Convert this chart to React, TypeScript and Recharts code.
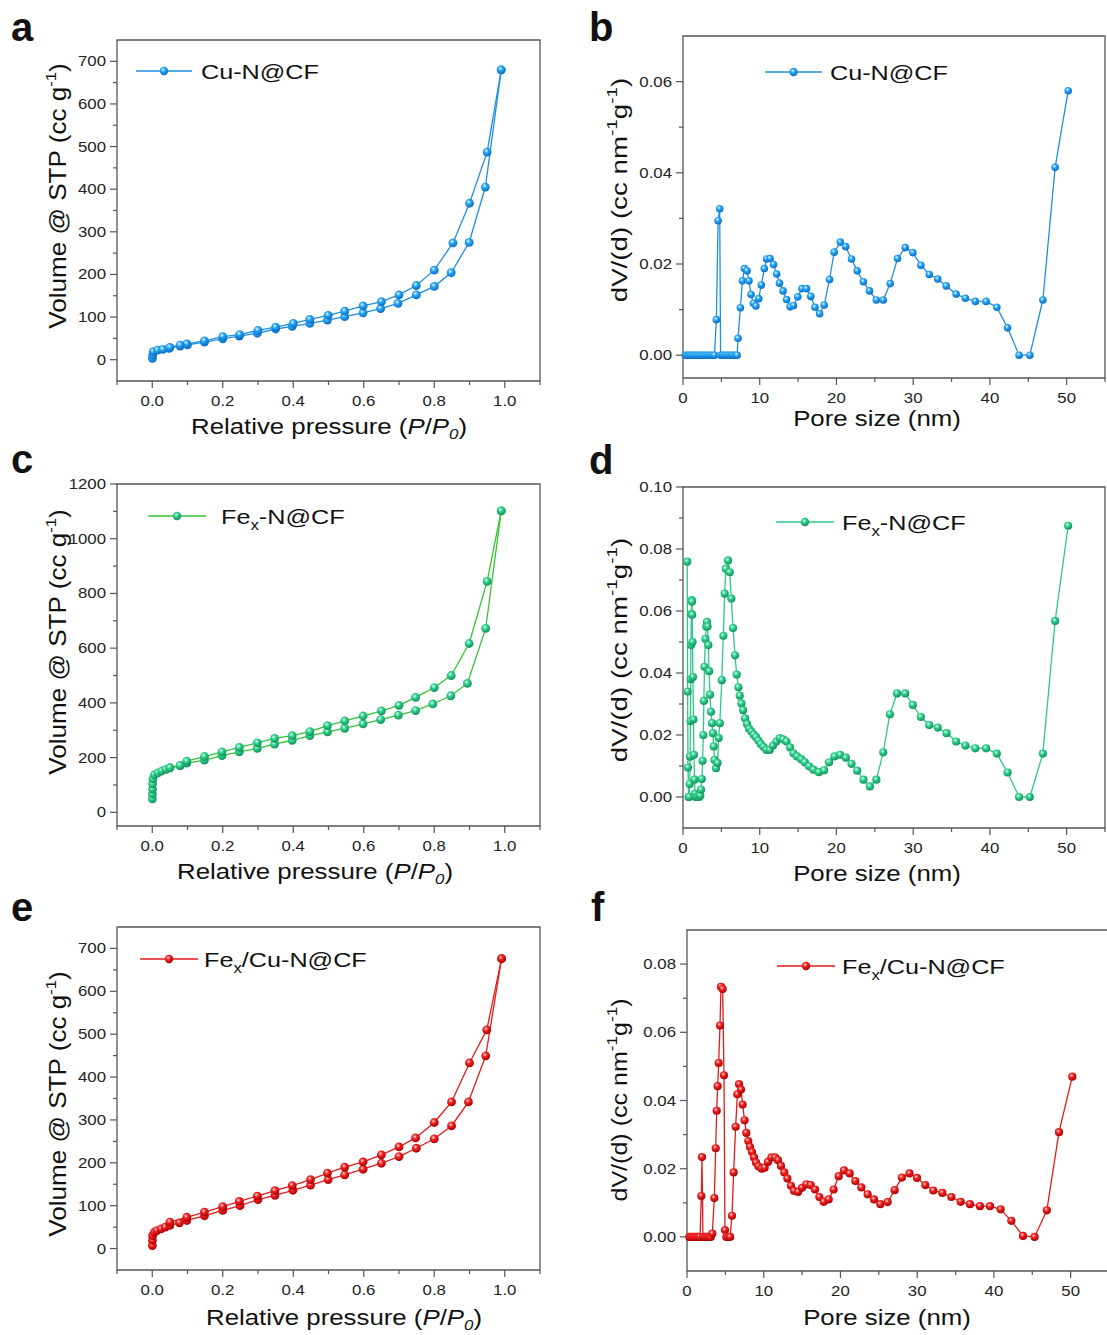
import React from 'react';
import { LineChart, Line, XAxis, YAxis, ReferenceArea } from 'recharts';

const FONT = '"Liberation Sans", Arial, Helvetica, sans-serif';
const AXIS = '#555';
const SX = 1.2;

// ---------- Panel a: Cu-N@CF isotherm ----------
const cuAdsP = [0.0005, 0.001, 0.003, 0.015, 0.03, 0.048, 0.079, 0.1, 0.148, 0.2, 0.247, 0.298, 0.35, 0.397, 0.447, 0.497, 0.546, 0.598, 0.648, 0.697, 0.749, 0.8, 0.848, 0.899, 0.945, 0.99];
const cuAdsV = [3, 11, 19, 22.5, 24, 26.5, 32, 35, 41, 49, 55.5, 62, 72, 78, 85, 93, 101, 110, 120, 132, 152, 172, 204, 275, 405, 680];
const cuDesP = [0.99, 0.95, 0.9, 0.853, 0.8, 0.749, 0.7, 0.65, 0.598, 0.546, 0.499, 0.447, 0.4, 0.35, 0.3, 0.248, 0.2, 0.148, 0.098, 0.079, 0.05];
const cuDesV = [680, 487, 367, 274, 210, 174, 152, 136, 126, 114, 104, 94.5, 85, 76.5, 69, 59, 54, 44, 37, 34, 29];

// ---------- Panel c: Fex-N@CF isotherm ----------
const feAdsP = [0.0003, 0.0005, 0.0008, 0.001, 0.002, 0.006, 0.016, 0.027, 0.039, 0.05, 0.079, 0.098, 0.148, 0.198, 0.247, 0.298, 0.347, 0.397, 0.447, 0.497, 0.546, 0.598, 0.648, 0.698, 0.747, 0.796, 0.847, 0.894, 0.946, 0.99];
const feAdsV = [49, 67, 85, 104, 122, 137, 144, 151, 157, 162, 171, 180, 191, 207, 221, 234, 249, 263, 280, 294, 307, 323, 339, 355, 372, 396, 426, 471, 672, 1102];
const feDesP = [0.99, 0.95, 0.899, 0.848, 0.8, 0.747, 0.7, 0.65, 0.598, 0.546, 0.497, 0.447, 0.397, 0.347, 0.298, 0.247, 0.198, 0.148, 0.098, 0.079, 0.05];
const feDesV = [1102, 844, 617, 500, 456, 420, 391, 371, 352, 334, 317, 295, 280, 270, 254, 237, 221, 204, 187, 171, 163];

// ---------- Panel e: Fex/Cu-N@CF isotherm ----------
const fcAdsP = [0.0003, 0.0006, 0.001, 0.006, 0.013, 0.025, 0.037, 0.05, 0.077, 0.098, 0.148, 0.2, 0.249, 0.3, 0.348, 0.399, 0.449, 0.499, 0.546, 0.598, 0.65, 0.7, 0.749, 0.8, 0.849, 0.897, 0.946, 0.991];
const fcAdsV = [7, 19, 30, 38, 42, 46, 50, 54, 60, 65.5, 76.5, 89, 100, 114, 124, 136, 148, 161, 172, 185, 199, 214.6, 234, 256, 286, 342, 449.5, 676];
const fcDesP = [0.991, 0.949, 0.9, 0.849, 0.8, 0.747, 0.7, 0.65, 0.598, 0.546, 0.497, 0.449, 0.397, 0.348, 0.298, 0.247, 0.2, 0.148, 0.098, 0.05];
const fcDesV = [676, 510, 433, 342, 294, 258, 237, 218.5, 202, 190, 176, 161, 147, 135, 122.5, 110, 98, 85, 73, 61.6];

// ---------- Panel b: Cu-N@CF pore size distribution ----------
const cuPsdD = [
  0.3, 0.5, 0.7, 0.9, 1.1, 1.35, 1.6, 1.85, 2.1, 2.35,
  2.6, 2.85, 3.1, 3.35, 3.6, 3.85, 4.1, 4.35, 4.57, 4.78,
  4.9, 5.1, 5.35, 5.6, 5.85, 6.1, 6.35, 6.6, 6.85, 7.05,
  7.17, 7.48, 7.74, 8.0, 8.35, 8.6, 8.87, 9.17, 9.5, 9.87,
  10.2, 10.6, 10.9, 11.35, 11.8, 12.2, 12.57, 13.04, 13.5, 13.96,
  14.4, 14.96, 15.5, 16.1, 16.65, 17.2, 17.8, 18.4, 19.1, 19.7,
  20.5, 21.2, 21.96, 22.7, 23.5, 24.3, 25.2, 26.1, 27.0, 27.96,
  28.96, 29.96, 31.0, 32.1, 33.2, 34.3, 35.6, 36.8, 38.1, 39.5,
  40.9, 42.3, 43.8, 45.2, 46.9, 48.5, 50.2,
];
const cuPsdV = [
  0, 0, 0, 0, 0, 0, 0, 0, 0, 0,
  0, 0, 0, 0, 0, 0, 0, 0.0078, 0.0295, 0.0321,
  0, 0, 0, 0, 0, 0, 0, 0, 0, 0,
  0.0037, 0.0104, 0.0163, 0.019, 0.0185, 0.0163, 0.0133, 0.0114, 0.0108, 0.0124,
  0.0154, 0.019, 0.0211, 0.0212, 0.0199, 0.0178, 0.0158, 0.0141, 0.0122, 0.0106,
  0.0109, 0.0128, 0.0146, 0.0146, 0.0129, 0.0105, 0.0091, 0.011, 0.0166, 0.0226,
  0.0248, 0.0238, 0.0211, 0.0185, 0.0161, 0.0141, 0.0121, 0.0121, 0.0157, 0.0212,
  0.0236, 0.0225, 0.0197, 0.0177, 0.0167, 0.0152, 0.0134, 0.0125, 0.0118, 0.0118,
  0.0105, 0.006, 0, 0, 0.0121, 0.0412, 0.058,
];

// ---------- Panel d: Fex-N@CF pore size distribution ----------
const fePsdD = [
  0.55, 0.6, 0.65, 0.72, 0.8, 0.87, 0.92, 0.97, 1.0, 1.04,
  1.08, 1.13, 1.17, 1.2, 1.24, 1.3, 1.36, 1.43, 1.5, 1.57,
  1.65, 1.8, 1.95, 2.1, 2.25, 2.35, 2.45, 2.55, 2.65, 2.72,
  2.8, 2.92, 3.03, 3.12, 3.2, 3.3, 3.4, 3.52, 3.65, 3.78,
  3.9, 4.0, 4.1, 4.3, 4.5, 4.65, 4.8, 5.05, 5.26, 5.43,
  5.57, 5.87, 6.09, 6.3, 6.52, 6.78, 7.0, 7.22, 7.39, 7.61,
  7.83, 8.09, 8.35, 8.61, 8.91, 9.22, 9.52, 9.83, 10.13, 10.48,
  10.87, 11.3, 11.74, 12.17, 12.6, 13.04, 13.48, 13.96, 14.39, 14.87,
  15.39, 15.87, 16.43, 17.0, 17.7, 18.39, 19.04, 19.74, 20.48, 21.22,
  21.96, 22.7, 23.52, 24.35, 25.2, 26.1, 26.96, 27.9, 28.96, 29.96,
  31.0, 32.1, 33.2, 34.35, 35.6, 36.8, 38.1, 39.5, 40.9, 42.3,
  43.8, 45.2, 46.9, 48.5, 50.2,
];
const fePsdV = [
  0.0759, 0.034, 0.0095, 0, 0, 0.0042, 0.013, 0.0245, 0.038, 0.049,
  0.059, 0.0635, 0.063, 0.0588, 0.05, 0.0387, 0.025, 0.0136, 0.0056, 0.001,
  0, 0, 0, 0, 0.0005, 0.0024, 0.0058, 0.0117, 0.02, 0.031,
  0.042, 0.051, 0.055, 0.0565, 0.055, 0.049, 0.0406, 0.033, 0.0275, 0.0238,
  0.0206, 0.0163, 0.012, 0.0093, 0.011, 0.019, 0.0238, 0.0377, 0.052, 0.0656,
  0.0736, 0.0763, 0.0725, 0.064, 0.0545, 0.0457, 0.0395, 0.0354, 0.0327, 0.0302,
  0.028, 0.0254, 0.0235, 0.022, 0.0211, 0.0201, 0.0193, 0.0182, 0.0171, 0.0162,
  0.0152, 0.0152, 0.0166, 0.0179, 0.019, 0.0186, 0.0179, 0.016, 0.0141, 0.0131,
  0.0122, 0.0112, 0.0099, 0.0088, 0.008, 0.0086, 0.0112, 0.0131, 0.0136, 0.0127,
  0.0107, 0.0085, 0.0056, 0.0034, 0.0056, 0.0144, 0.0267, 0.0334, 0.0334, 0.0297,
  0.0258, 0.0232, 0.0224, 0.0206, 0.0179, 0.0166, 0.0157, 0.0157, 0.014, 0.0079,
  0, 0, 0.014, 0.0568, 0.0875,
];

// ---------- Panel f: Fex/Cu-N@CF pore size distribution ----------
const fcPsdD = [
  0.3, 0.5, 0.7, 0.9, 1.1, 1.3, 1.5, 1.7, 1.87, 1.95,
  2.08, 2.3, 2.5, 2.7, 2.9, 3.1, 3.3, 3.56, 3.74, 3.87,
  3.99, 4.13, 4.3, 4.43, 4.65, 4.82, 4.95, 5.13, 5.4, 5.62,
  5.86, 6.08, 6.34, 6.56, 6.78, 7.04, 7.25, 7.5, 7.73, 7.99,
  8.21, 8.47, 8.73, 8.99, 9.3, 9.73, 10.12, 10.56, 11.0, 11.47,
  11.86, 12.25, 12.68, 13.08, 13.55, 13.94, 14.47, 14.99, 15.55, 16.12,
  16.68, 17.25, 17.81, 18.46, 19.11, 19.77, 20.46, 21.2, 21.94, 22.72,
  23.54, 24.37, 25.2, 26.15, 27.06, 28.0, 29.0, 29.97, 31.06, 32.1,
  33.28, 34.45, 35.66, 36.88, 38.18, 39.49, 40.88, 42.27, 43.79, 45.3,
  46.9, 48.48, 50.22,
];
const fcPsdV = [
  0, 0, 0, 0, 0, 0, 0, 0, 0.012, 0.0234,
  0, 0, 0, 0, 0, 0, 0.001, 0.0114, 0.026, 0.037,
  0.0442, 0.051, 0.062, 0.0733, 0.0727, 0.0474, 0.002, 0, 0, 0,
  0.0062, 0.0189, 0.0323, 0.0418, 0.0448, 0.0432, 0.0388, 0.0342, 0.0305, 0.0281,
  0.0264, 0.0249, 0.0233, 0.0218, 0.0207, 0.02, 0.0203, 0.022, 0.0233, 0.0233,
  0.0225, 0.0208, 0.0189, 0.0171, 0.015, 0.0135, 0.0132, 0.0144, 0.0154, 0.0152,
  0.0139, 0.0117, 0.0103, 0.011, 0.0139, 0.0178, 0.0195, 0.0186, 0.0164, 0.0145,
  0.0125, 0.011, 0.0096, 0.0102, 0.0137, 0.0174, 0.0186, 0.0173, 0.0152, 0.0136,
  0.0129, 0.0117, 0.0103, 0.0096, 0.009, 0.009, 0.0081, 0.0047, 0.0003, 0,
  0.0078, 0.0307, 0.047,
];

// ---------- Ticks ----------
const isoXMajor = [0, 0.2, 0.4, 0.6, 0.8, 1.0];
const isoXMinor = [-0.1, 0.1, 0.3, 0.5, 0.7, 0.9, 1.1];
const psdXMajor = [0, 10, 20, 30, 40, 50];
const psdXMinor = [5, 15, 25, 35, 45, 55];
const aYMajor = [0, 100, 200, 300, 400, 500, 600, 700];
const aYMinor = [50, 150, 250, 350, 450, 550, 650];
const cYMajor = [0, 200, 400, 600, 800, 1000, 1200];
const cYMinor = [100, 300, 500, 700, 900, 1100];
const bYMajor = [0, 0.02, 0.04, 0.06];
const bYMinor = [0.01, 0.03, 0.05];
const dYMajor = [0, 0.02, 0.04, 0.06, 0.08, 0.1];
const dYMinor = [0.01, 0.03, 0.05, 0.07, 0.09];
const fYMajor = [0, 0.02, 0.04, 0.06, 0.08];
const fYMinor = [0.01, 0.03, 0.05, 0.07];

type Pt = { x: number; y: number };
const zip = (xs: number[], ys: number[]): Pt[] => xs.map((x, i) => ({ x, y: ys[i] }));

const BLUE = { line: '#1f8fe2', grad: 'ballBlue' };
const GREEN_C = { line: '#33c433', grad: 'ballGreen' };
const GREEN_D = { line: '#2cc98a', grad: 'ballGreen' };
const RED = { line: '#e41a1a', grad: 'ballRed' };

type Series = { data: Pt[]; stroke: string; grad: string; r: number };
type PanelCfg = {
  L: number; T: number; R: number; B: number;
  xDomain: [number, number]; yDomain: [number, number];
  xMajor: number[]; xMinor: number[]; yMajor: number[]; yMinor: number[];
  xFmt: (v: number) => string; yFmt: (v: number) => string;
  series: Series[];
};

const isIn = (arr: number[], v: number) => arr.some((a) => Math.abs(a - v) < 1e-9);
const fmtInt = (v: number) => String(Math.round(v));
const fmt1 = (v: number) => v.toFixed(1);
const fmt2 = (v: number) => v.toFixed(2);

const panels: PanelCfg[] = [
  {
    L: 117, T: 40, R: 540, B: 381, xDomain: [-0.1, 1.1], yDomain: [-50, 750],
    xMajor: isoXMajor, xMinor: isoXMinor, yMajor: aYMajor, yMinor: aYMinor, xFmt: fmt1, yFmt: fmtInt,
    series: [
      { data: zip(cuAdsP, cuAdsV), stroke: BLUE.line, grad: BLUE.grad, r: 4.4 },
      { data: zip(cuDesP, cuDesV), stroke: BLUE.line, grad: BLUE.grad, r: 4.4 },
    ],
  },
  {
    L: 683, T: 36, R: 1105, B: 378, xDomain: [0, 55], yDomain: [-0.005, 0.07],
    xMajor: psdXMajor, xMinor: psdXMinor, yMajor: bYMajor, yMinor: bYMinor, xFmt: fmtInt, yFmt: fmt2,
    series: [{ data: zip(cuPsdD, cuPsdV), stroke: BLUE.line, grad: BLUE.grad, r: 3.8 }],
  },
  {
    L: 117, T: 484, R: 540, B: 826, xDomain: [-0.1, 1.1], yDomain: [-50, 1200],
    xMajor: isoXMajor, xMinor: isoXMinor, yMajor: cYMajor, yMinor: cYMinor, xFmt: fmt1, yFmt: fmtInt,
    series: [
      { data: zip(feAdsP, feAdsV), stroke: GREEN_C.line, grad: GREEN_C.grad, r: 4.4 },
      { data: zip(feDesP, feDesV), stroke: GREEN_C.line, grad: GREEN_C.grad, r: 4.4 },
    ],
  },
  {
    L: 683, T: 487, R: 1105, B: 828, xDomain: [0, 55], yDomain: [-0.01, 0.1],
    xMajor: psdXMajor, xMinor: psdXMinor, yMajor: dYMajor, yMinor: dYMinor, xFmt: fmtInt, yFmt: fmt2,
    series: [{ data: zip(fePsdD, fePsdV), stroke: GREEN_D.line, grad: GREEN_D.grad, r: 4.1 }],
  },
  {
    L: 117, T: 927, R: 540, B: 1270, xDomain: [-0.1, 1.1], yDomain: [-50, 750],
    xMajor: isoXMajor, xMinor: isoXMinor, yMajor: aYMajor, yMinor: aYMinor, xFmt: fmt1, yFmt: fmtInt,
    series: [
      { data: zip(fcAdsP, fcAdsV), stroke: RED.line, grad: RED.grad, r: 4.4 },
      { data: zip(fcDesP, fcDesV), stroke: RED.line, grad: RED.grad, r: 4.4 },
    ],
  },
  {
    L: 687, T: 930, R: 1109, B: 1271, xDomain: [0, 55], yDomain: [-0.01, 0.09],
    xMajor: psdXMajor, xMinor: psdXMinor, yMajor: fYMajor, yMinor: fYMinor, xFmt: fmtInt, yFmt: fmt2,
    series: [{ data: zip(fcPsdD, fcPsdV), stroke: RED.line, grad: RED.grad, r: 4.1 }],
  },
];

function Panel({ cfg }: { cfg: PanelCfg }) {
  const YW = 70, XH = 34, MT = 12, MR = 12;
  const W = cfg.R - cfg.L + YW + MR;
  const H = cfg.B - cfg.T + MT + XH;
  const pb = H - XH;
  const pl = YW;
  const xTicks = [...cfg.xMajor, ...cfg.xMinor].sort((a, b) => a - b);
  const yTicks = [...cfg.yMajor, ...cfg.yMinor].sort((a, b) => a - b);

  const xTick = (p: any) => {
    const v = p.payload.value;
    const major = isIn(cfg.xMajor, v);
    return (
      <g key={`xt${v}`}>
        <line x1={p.x} x2={p.x} y1={pb} y2={pb + (major ? 7 : 4)} stroke={AXIS} strokeWidth={1.2} />
        {major && (
          <g transform={`translate(${p.x} ${pb + 25}) scale(${SX} 1)`}>
            <text x={0} y={0} textAnchor="middle" fontSize={14} fontFamily={FONT} fill="#222">{cfg.xFmt(v)}</text>
          </g>
        )}
      </g>
    );
  };
  const yTick = (p: any) => {
    const v = p.payload.value;
    const major = isIn(cfg.yMajor, v);
    return (
      <g key={`yt${v}`}>
        <line x1={pl} x2={pl - (major ? 7 : 4)} y1={p.y} y2={p.y} stroke={AXIS} strokeWidth={1.2} />
        {major && (
          <g transform={`translate(${pl - 11} ${p.y + 5}) scale(${SX} 1)`}>
            <text x={0} y={0} textAnchor="end" fontSize={14} fontFamily={FONT} fill="#222">{cfg.yFmt(v)}</text>
          </g>
        )}
      </g>
    );
  };

  return (
    <div style={{ position: 'absolute', left: cfg.L - YW, top: cfg.T - MT, width: W, height: H }}>
      <LineChart width={W} height={H} margin={{ top: MT, right: MR, left: 0, bottom: 0 }}>
        <XAxis dataKey="x" type="number" domain={cfg.xDomain} ticks={xTicks} interval={0} height={XH}
          axisLine={false} tickLine={false} tick={xTick} />
        <YAxis type="number" domain={cfg.yDomain} ticks={yTicks} interval={0} width={YW}
          axisLine={false} tickLine={false} tick={yTick} />
        <ReferenceArea x1={cfg.xDomain[0]} x2={cfg.xDomain[1]} y1={cfg.yDomain[0]} y2={cfg.yDomain[1]}
          fill="none" fillOpacity={0} stroke={AXIS} strokeWidth={1.3} ifOverflow="visible" />
        {cfg.series.map((s, i) => (
          <Line key={i} data={s.data} dataKey="y" type="linear" stroke={s.stroke} strokeWidth={1.3}
            isAnimationActive={false} activeDot={false}
            dot={(p: any) => (
              <circle key={`d${i}-${p.index}`} cx={p.cx} cy={p.cy} r={s.r} fill={`url(#${s.grad})`} />
            )} />
        ))}
      </LineChart>
    </div>
  );
}

function T({ x, y, size, sx = SX, anchor = 'start', rot = 0, weight = 'normal', children }: any) {
  const tr = `translate(${x} ${y})` + (rot ? ` rotate(${rot})` : '') + ` scale(${sx} 1)`;
  return (
    <g transform={tr}>
      <text x={0} y={0} fontSize={size} fontFamily={FONT} fontWeight={weight} textAnchor={anchor} fill="#111">
        {children}
      </text>
    </g>
  );
}

function Leg({ x1, x2, y, color, grad, tx, children }: any) {
  return (
    <g>
      <line x1={x1} x2={x2} y1={y} y2={y} stroke={color} strokeWidth={1.3} />
      <circle cx={(x1 + x2) / 2} cy={y} r={4.2} fill={`url(#${grad})`} />
      <T x={tx} y={y + 8} size={21}>{children}</T>
    </g>
  );
}

const isoTitle = (
  <>
    Relative pressure (<tspan fontStyle="italic">P</tspan>/<tspan fontStyle="italic">P</tspan>
    <tspan fontStyle="italic" fontSize={14} dy={5}>0</tspan><tspan dy={-5}>)</tspan>
  </>
);
const volTitle = (
  <>
    Volume @ STP (cc g<tspan fontSize={15} dy={-10}>-1</tspan><tspan dy={10}>)</tspan>
  </>
);
const psdTitle = <>dV/(d) (cc nm<tspan fontSize={15} dy={-10}>-1</tspan><tspan dy={10}>g</tspan><tspan fontSize={15} dy={-10}>-1</tspan><tspan dy={10}>)</tspan></>;

export default function App() {
  return (
    <div style={{ position: 'absolute', left: 0, top: 0, width: 1107, height: 1335, background: '#fff', overflow: 'hidden' }}>
      <svg width={0} height={0} style={{ position: 'absolute' }}>
        <defs>
          <radialGradient id="ballBlue" cx="0.4" cy="0.35" r="0.65">
            <stop offset="0" stopColor="#e6f7ff" />
            <stop offset="0.4" stopColor="#25a4f2" />
            <stop offset="1" stopColor="#0a6cc4" />
          </radialGradient>
          <radialGradient id="ballGreen" cx="0.4" cy="0.35" r="0.65">
            <stop offset="0" stopColor="#d9fff0" />
            <stop offset="0.4" stopColor="#2fd08d" />
            <stop offset="1" stopColor="#128f58" />
          </radialGradient>
          <radialGradient id="ballRed" cx="0.4" cy="0.35" r="0.65">
            <stop offset="0" stopColor="#ffd6d6" />
            <stop offset="0.4" stopColor="#f22020" />
            <stop offset="1" stopColor="#a50000" />
          </radialGradient>
        </defs>
      </svg>
      {panels.map((p, i) => <Panel key={i} cfg={p} />)}
      <svg width={1107} height={1335} style={{ position: 'absolute', left: 0, top: 0, pointerEvents: 'none' }}>
        <T x={11} y={41} size={40} sx={1} weight="bold">a</T>
        <T x={589} y={41} size={40} sx={1} weight="bold">b</T>
        <T x={11} y={473} size={40} sx={1} weight="bold">c</T>
        <T x={589} y={474} size={40} sx={1} weight="bold">d</T>
        <T x={11} y={921} size={40} sx={1} weight="bold">e</T>
        <T x={591} y={921} size={40} sx={1} weight="bold">f</T>

        <T x={329} y={434} size={21.5} anchor="middle">{isoTitle}</T>
        <T x={315} y={879} size={21.5} anchor="middle">{isoTitle}</T>
        <T x={344} y={1325} size={21.5} anchor="middle">{isoTitle}</T>
        <T x={877} y={426} size={21.5} anchor="middle">Pore size (nm)</T>
        <T x={877} y={881} size={21.5} anchor="middle">Pore size (nm)</T>
        <T x={887} y={1325} size={21.5} anchor="middle">Pore size (nm)</T>

        <T x={66} y={196} size={23.5} rot={-90} sx={1.11} anchor="middle">{volTitle}</T>
        <T x={66} y={642} size={23.5} rot={-90} sx={1.11} anchor="middle">{volTitle}</T>
        <T x={66} y={1104} size={23.5} rot={-90} sx={1.11} anchor="middle">{volTitle}</T>
        <T x={627} y={190} size={22} rot={-90} sx={1.26} anchor="middle">{psdTitle}</T>
        <T x={627} y={650} size={22} rot={-90} sx={1.26} anchor="middle">{psdTitle}</T>
        <T x={627} y={1100} size={22} rot={-90} sx={1.14} anchor="middle">{psdTitle}</T>

        <Leg x1={136} x2={192} y={71} color={BLUE.line} grad="ballBlue" tx={201}>Cu-N@CF</Leg>
        <Leg x1={765} x2={822} y={72} color={BLUE.line} grad="ballBlue" tx={830}>Cu-N@CF</Leg>
        <Leg x1={148} x2={206} y={516} color={GREEN_C.line} grad="ballGreen" tx={221}>
          Fe<tspan fontSize={14} dy={6}>x</tspan><tspan dy={-6}>-N@CF</tspan>
        </Leg>
        <Leg x1={776} x2={834} y={522} color={GREEN_D.line} grad="ballGreen" tx={842}>
          Fe<tspan fontSize={14} dy={6}>x</tspan><tspan dy={-6}>-N@CF</tspan>
        </Leg>
        <Leg x1={140} x2={198} y={959} color={RED.line} grad="ballRed" tx={204}>
          Fe<tspan fontSize={14} dy={6}>x</tspan><tspan dy={-6}>/Cu-N@CF</tspan>
        </Leg>
        <Leg x1={777} x2={835} y={966} color={RED.line} grad="ballRed" tx={842}>
          Fe<tspan fontSize={14} dy={6}>x</tspan><tspan dy={-6}>/Cu-N@CF</tspan>
        </Leg>
      </svg>
    </div>
  );
}
